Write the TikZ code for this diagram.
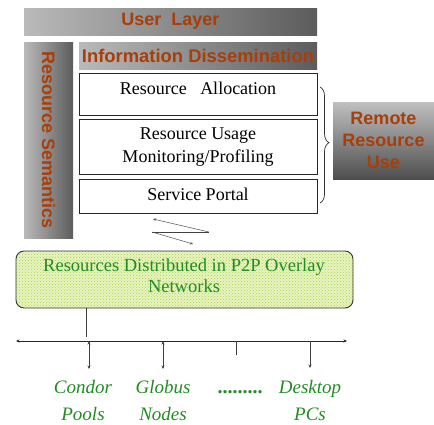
\documentclass[tikz,border=0pt]{standalone}
\usepackage{fontspec}
\setmainfont{Liberation Serif}
\newfontfamily\headfont{Liberation Sans}
\usetikzlibrary{arrows.meta,decorations.pathreplacing,patterns}
\definecolor{rust}{RGB}{168,62,10}
\definecolor{leaf}{RGB}{34,139,34}
\definecolor{meshbase}{RGB}{232,244,196}
\definecolor{meshdot}{RGB}{165,212,62}
\definecolor{barlight}{RGB}{186,186,186}
\definecolor{bardark}{RGB}{92,92,92}
\begin{document}
\begin{tikzpicture}[x=1pt,y=1pt,
  >={Stealth[length=3.5pt,width=3pt]},
  layerbar/.style={shading=axis, top color=barlight, bottom color=bardark, shading angle=90, inner sep=0pt},
  layertext/.style={text=rust, align=center, inner sep=0pt,
    font=\headfont\bfseries\fontsize{18}{22}\selectfont},
  stackbox/.style={draw=black!85, line width=0.9pt, fill=white, inner sep=0pt,
    minimum width=238pt},
  stacktext/.style={align=center, inner sep=0pt, font=\fontsize{18}{23}\selectfont},
  tinyarrow/.style={-{Stealth[length=3pt,width=2.5pt]}, line width=0.5pt},
  sitelabel/.style={text=leaf, align=center, inner sep=0pt,
    font=\itshape\fontsize{19}{27}\selectfont},
  busline/.style={line width=0.8pt, black!85},
  drop/.style={line width=0.9pt, black!75}
]
\useasboundingbox (0,0) rectangle (434,-424);

% layered stack: shaded bars, with their titles set on top
\node[layerbar, minimum width=293pt, minimum height=27pt] (user) at (170.5,-21.5) {};
\node[layertext] (usertext) at (user.center) {User\ \ Layer};
\node[layerbar, minimum width=49pt, minimum height=196pt] (sem) at (48.5,-140) {};
\node[layertext, rotate=-90] (semtext) at (sem.center) {Resource Semantics};
\node[layerbar, minimum width=238pt, minimum height=27pt] (info) at (198,-55.5) {};
\node[layertext, font=\headfont\bfseries\fontsize{18.4}{22}\selectfont] (infotext) at (info.center) {Information Dissemination};

\node[stackbox, minimum height=42pt] (alloc) at (198,-94) {};
\node[stacktext] (alloctext) at (198,-88) {Resource\ \ \ Allocation};
\node[stackbox, minimum height=55pt] (usage) at (198,-146.5) {};
\node[stacktext] (usagetext) at (198,-147) {Resource Usage\\Monitoring/Profiling};
\node[stackbox, minimum height=34pt] (portal) at (198,-196) {};
\node[stacktext] (portaltext) at (198,-194) {Service Portal};

\node[layerbar, shading angle=45, top color=barlight!92!white, bottom color=bardark!85!black,
  minimum width=101pt, minimum height=77pt] (remote) at (383.5,-140.5) {};
\node[layertext] (remotetext) at (remote.center) {Remote\\Resource\\Use};

% brace grouping the three service boxes
\coordinate (braceTop) at (320,-87);
\coordinate (braceBot) at (320,-203);
\draw[decorate, decoration={brace, amplitude=9pt, aspect=0.48}, line width=0.7pt, black!80]
  (braceTop) -- (braceBot);

% request / response zigzag
\coordinate (zA) at (209,-232);
\coordinate (zB) at (153,-219);
\coordinate (zC) at (152,-232);
\coordinate (zD) at (193,-244);
\draw[tinyarrow, black!70] (zA) -- (zB);
\draw[line width=1pt, black!75] (zC) -- (zA);
\draw[tinyarrow, black!70] (zC) -- (zD);

% P2P overlay
\node[draw=black!80, line width=0.9pt, rounded corners=8pt,
  preaction={fill=meshbase}, pattern=crosshatch dots, pattern color=meshdot,
  minimum width=337pt, minimum height=57pt, inner sep=0pt] (p2p) at (184.5,-279.5) {};
\node[text=leaf, align=center, inner sep=0pt, font=\fontsize{18.5}{21}\selectfont]
  (p2ptext) at (184,-276) {Resources Distributed in P2P Overlay\\Networks};

% bus
\coordinate (tap) at (86,-337);
\draw[drop] (p2p.south -| tap) -- (tap);
\coordinate (busL) at (16,-341);
\coordinate (busR) at (347,-341);
\draw[busline, <->] (busL) -- (busR);

% site labels (base anchor sits on the last line)
\node[sitelabel, anchor=base] (condor) at (83,-420) {Condor\\Pools};
\node[sitelabel, anchor=base] (globus) at (163,-420) {Globus\\Nodes};
\node[text=leaf, inner sep=0pt, anchor=base, font=\bfseries\fontsize{20}{27}\selectfont] (more) at (240,-393) {.........};
\node[sitelabel, anchor=base] (desktop) at (310,-420) {Desktop\\PCs};

% drops from the bus to each site
\coordinate (dC) at (89,-369);
\coordinate (dG) at (163,-369);
\coordinate (dM) at (236,-355);
\coordinate (dD) at (310,-368);
\draw[drop, <->] (busL -| dC) -- (dC);
\draw[drop, <->] (busL -| dG) -- (dG);
\draw[drop] (busL -| dM) -- (dM);
\draw[drop, ->] (busL -| dD) -- (dD);
\end{tikzpicture}
\end{document}
